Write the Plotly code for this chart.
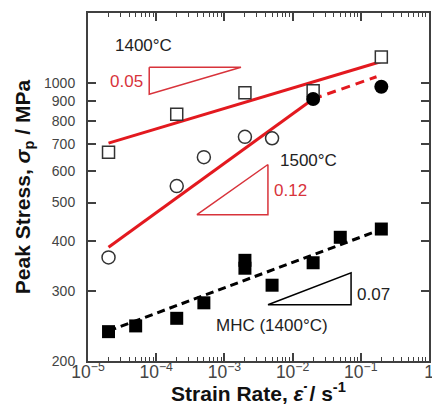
import math
import plotly.graph_objects as go

# ---- data ----
rate_1400 = [2e-5, 2e-4, 2e-3, 2e-2, 2e-1]
stress_1400 = [669, 833, 943, 954, 1160]

rate_1500_open = [2e-5, 2e-4, 5e-4, 2e-3, 5e-3]
stress_1500_open = [364, 550, 650, 731, 725]
rate_1500_fill = [2e-2, 2e-1]
stress_1500_fill = [910, 977]

rate_mhc = [2e-5, 5e-5, 2e-4, 5e-4, 2e-3, 2e-3, 5e-3, 2e-2, 5e-2, 2e-1]
stress_mhc = [237, 245, 256, 280, 358, 342, 310, 353, 409, 429]

fit_1400_x = [2e-5, 2e-1]
fit_1400_y = [705, 1130]
fit_1500_x = [2e-5, 2e-2]
fit_1500_y = [386, 910]
fit_1500_dash_x = [2e-2, 0.17]
fit_1500_dash_y = [910, 1035]
fit_mhc_x = [2e-5, 2e-1]
fit_mhc_y = [238, 428]

# slope triangles (data units)
tri_1400_x = [7.9e-5, 7.9e-5, 1.75e-3, 7.9e-5]
tri_1400_y = [1093, 935, 1093, 1093]
tri_1500_x = [4.35e-3, 4.35e-3, 3.96e-4, 4.35e-3]
tri_1500_y = [623, 466, 466, 623]
tri_mhc_x = [4.35e-3, 0.072, 0.072, 4.35e-3]
tri_mhc_y = [277, 333, 277, 277]

y_ticks = [200, 300, 400, 500, 600, 700, 800, 900, 1000]
y_ticktext = [str(v) for v in y_ticks]

RED = '#e3191f'
RED2 = '#d8333b'
AX = '#404040'
FONT = 'Liberation Sans, Arial, sans-serif'

fig = go.Figure()

# fit lines
fig.add_trace(go.Scatter(x=fit_1400_x, y=fit_1400_y, mode='lines', line=dict(color=RED, width=3)))
fig.add_trace(go.Scatter(x=fit_1500_x, y=fit_1500_y, mode='lines', line=dict(color=RED, width=3)))
fig.add_trace(go.Scatter(x=fit_1500_dash_x, y=fit_1500_dash_y, mode='lines',
                         line=dict(color=RED, width=3, dash='9px,6px')))
fig.add_trace(go.Scatter(x=fit_mhc_x, y=fit_mhc_y, mode='lines',
                         line=dict(color='black', width=3, dash='8px,5px')))

# triangles
fig.add_trace(go.Scatter(x=tri_1400_x, y=tri_1400_y, mode='lines', line=dict(color=RED2, width=1.5)))
fig.add_trace(go.Scatter(x=tri_1500_x, y=tri_1500_y, mode='lines', line=dict(color=RED2, width=1.5)))
fig.add_trace(go.Scatter(x=tri_mhc_x, y=tri_mhc_y, mode='lines', line=dict(color='black', width=1.5)))

# markers
fig.add_trace(go.Scatter(x=rate_1400, y=stress_1400, mode='markers',
                         marker=dict(symbol='square', size=12, color='white',
                                     line=dict(color='#333333', width=1.5))))
fig.add_trace(go.Scatter(x=rate_1500_open, y=stress_1500_open, mode='markers',
                         marker=dict(symbol='circle', size=13, color='white',
                                     line=dict(color='#333333', width=1.5))))
fig.add_trace(go.Scatter(x=rate_1500_fill, y=stress_1500_fill, mode='markers',
                         marker=dict(symbol='circle', size=14, color='black')))
fig.add_trace(go.Scatter(x=rate_mhc, y=stress_mhc, mode='markers',
                         marker=dict(symbol='square', size=13, color='black')))

L = math.log10
anns = [
    dict(text='1400°C', x=L(6.6e-5), y=L(1238), color='#222222', xanchor='center'),
    dict(text='0.05', x=-4.164, y=3.003, color=RED2, xanchor='right'),
    dict(text='1500°C', x=-2.214, y=2.805, color='#222222', xanchor='left'),
    dict(text='0.12', x=-2.302, y=2.730, color=RED2, xanchor='left'),
    dict(text='0.07', x=-1.085, y=2.468, color='#222222', xanchor='left'),
    dict(text='MHC (1400°C)', x=-2.309, y=2.391, color='#222222', xanchor='center'),
]
for a in anns:
    fig.add_annotation(x=a['x'], y=a['y'], xref='x', yref='y', text=a['text'],
                       showarrow=False, xanchor=a['xanchor'], yanchor='middle',
                       font=dict(family=FONT, size=17, color=a['color']))

# page body has an 8px margin, so the figure is 8px smaller and shifted
fig.update_layout(
    width=432, height=397,
    margin=dict(l=80, r=11, t=5, b=44),
    plot_bgcolor='white', paper_bgcolor='white',
    showlegend=False,
    font=dict(family=FONT, color='#333333'),
)
fig.update_xaxes(
    type='log', range=[-5, 0], dtick=1, exponentformat='power', automargin=False,
    showline=True, linewidth=2, linecolor=AX, mirror='ticks',
    ticks='inside', ticklen=8, tickwidth=1.5, tickcolor=AX,
    showgrid=False, zeroline=False, ticklabelstandoff=-5,
    tickfont=dict(family=FONT, size=14, color='#444444'),
    minor=dict(ticks='inside', ticklen=4, tickwidth=1, tickcolor=AX, dtick='D1', showgrid=False),
    title=dict(text='<b>Strain Rate, <i>ε̇</i> / s<sup>-1</sup></b>',
               font=dict(family=FONT, size=21, color='#111111'), standoff=6),
)
fig.update_yaxes(
    type='log', range=[math.log10(200), 3.175], automargin=False,
    tickvals=y_ticks, ticktext=y_ticktext,
    showline=True, linewidth=2, linecolor=AX, mirror='ticks',
    ticks='inside', ticklen=8, tickwidth=1.5, tickcolor=AX,
    showgrid=False, zeroline=False, ticklabelstandoff=8,
    tickfont=dict(family=FONT, size=14, color='#444444'),
    title=dict(text='<b>Peak Stress, <i>σ</i><sub>p</sub> / MPa</b>',
               font=dict(family=FONT, size=21, color='#111111'), standoff=8),
)

fig.write_html('out.html')
